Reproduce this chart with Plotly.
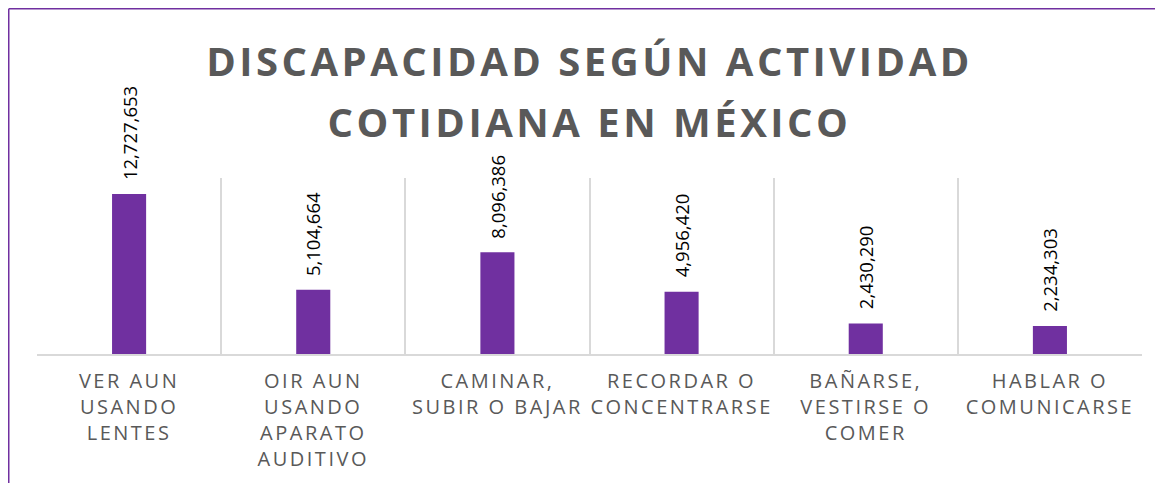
import plotly.graph_objects as go

categories = [
    "VER AUN<br>USANDO<br>LENTES",
    "OIR AUN<br>USANDO<br>APARATO<br>AUDITIVO",
    "CAMINAR,<br>SUBIR O BAJAR",
    "RECORDAR O<br>CONCENTRARSE",
    "BAÑARSE,<br>VESTIRSE O<br>COMER",
    "HABLAR O<br>COMUNICARSE",
]
values = [12727653, 5104664, 8096386, 4956420, 2430290, 2234303]
title_text = "DISCAPACIDAD SEGÚN ACTIVIDAD<br>COTIDIANA EN MÉXICO"

PURPLE = "#7030A0"
GRAY = "#595959"
GRID = "#d9d9d9"
FONT = "Open Sans"

fig = go.Figure()
fig.add_trace(go.Bar(
    x=categories, y=values, marker_color=PURPLE, marker_line_width=0,
    width=0.185,
))
for c, v in zip(categories, values):
    fig.add_annotation(
        x=c, y=v, text=f"{v:,}", showarrow=False, textangle=-90,
        xanchor="center", yanchor="bottom", yshift=12,
        font=dict(family=FONT, size=18.5, color="#000000"),
    )

W, H = 1163, 483
L, R, T, B = 29, 29, 170, 137
pw, ph = W - L - R, H - T - B

def px_x(p):
    return (p - L) / pw

def px_y(p):
    return (H - B - p) / ph

fig.add_shape(type="line", xref="paper", yref="paper",
              x0=px_x(0.75), x1=px_x(1200), y0=px_y(0.75), y1=px_y(0.75),
              line=dict(color=PURPLE, width=1.5))
fig.add_shape(type="line", xref="paper", yref="paper",
              x0=px_x(0.75), x1=px_x(0.75), y0=px_y(0.75), y1=px_y(520),
              line=dict(color=PURPLE, width=1.5))

fig.update_layout(
    width=W, height=H,
    margin=dict(l=L, r=R, t=T, b=B),
    paper_bgcolor="white", plot_bgcolor="white",
    showlegend=False,
    title=dict(text=title_text, x=0.5, xref="paper", xanchor="center",
               y=1 - 68 / H, yref="container", yanchor="top",
               font=dict(family=FONT, size=40, color=GRAY, weight="bold")),
    xaxis=dict(type="category", tickson="boundaries", showgrid=True,
               gridcolor=GRID, gridwidth=1.5, ticks="", showline=True,
               linecolor=GRID, linewidth=1.5, mirror=False,
               ticklabelstandoff=8,
               tickfont=dict(family=FONT, size=20, color=GRAY)),
    yaxis=dict(range=[0, 14000000], showgrid=False, showticklabels=False,
               zeroline=False, showline=False, ticks=""),
)

post = """
var gd = document.getElementById('{plot_id}');
function ls(){
  gd.querySelectorAll('.xtick text').forEach(function(t){t.setAttribute('letter-spacing','2.5px');});
  gd.querySelectorAll('.gtitle').forEach(function(t){
    t.setAttribute('letter-spacing','3.5px');
    var lines = t.querySelectorAll('tspan.line');
    lines.forEach(function(s, i){
      if(i > 0 && !s.dataset.adj){
        var d = parseFloat(s.getAttribute('dy'));
        if(!isNaN(d)){ s.setAttribute('dy', (d * 1.52 / 1.3) + 'em'); s.dataset.adj = '1'; }
      }
    });
  });
}
ls(); gd.on('plotly_afterplot', ls);
"""
fig.write_html("out.html", post_script=post)
